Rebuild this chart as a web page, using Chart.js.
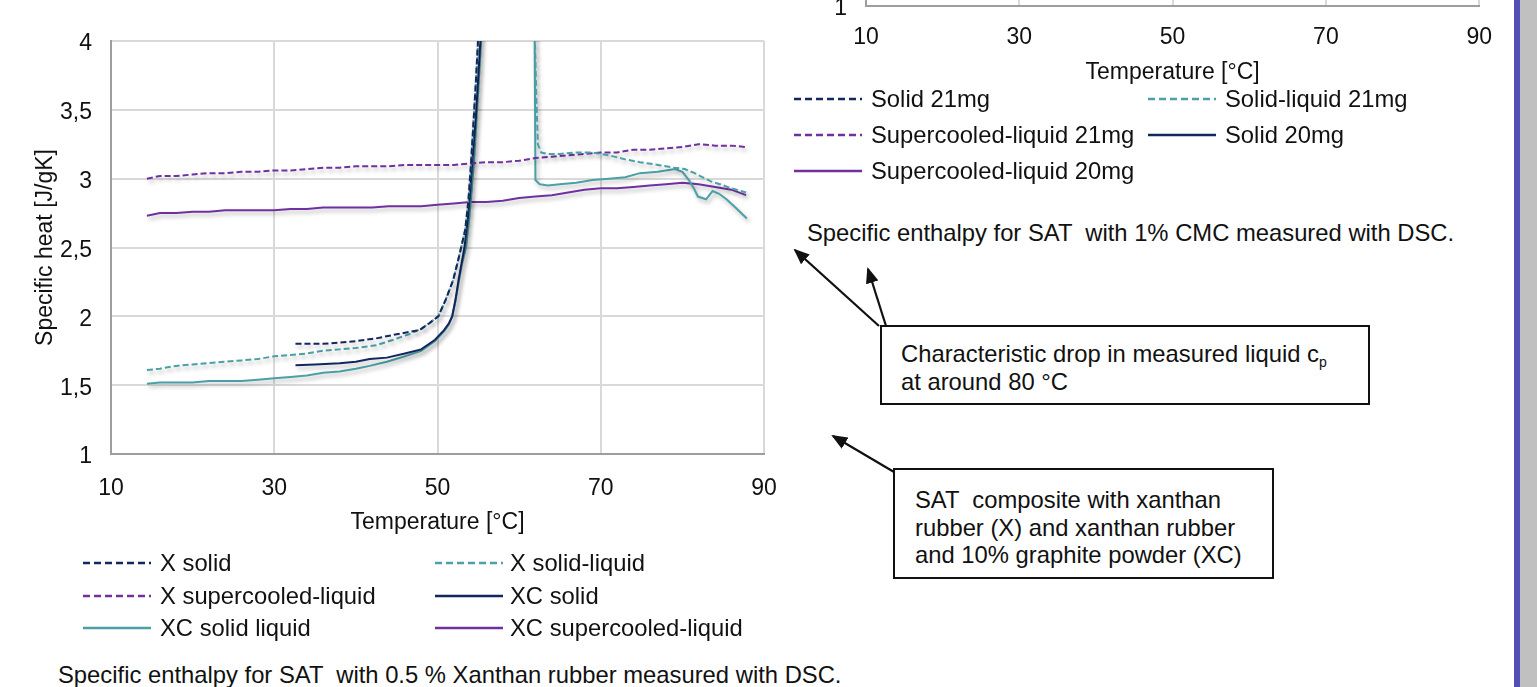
<!DOCTYPE html>
<html>
<head>
<meta charset="utf-8">
<script src="https://cdn.jsdelivr.net/npm/chart.js@4.4.1/dist/chart.umd.min.js"></script>
<style>
    body { margin: 0; width: 1537px; height: 687px; position: relative; overflow: hidden; background: #fff; font-family: 'Liberation Sans', Arial, sans-serif; }
    .txt { position: absolute; font-size: 23.8px; line-height: 26px; color: #111; white-space: pre; }
    .box { position: absolute; border: 2px solid #111; background: #fff; box-sizing: border-box; }
    .box .txt { position: static; line-height: 28px; }
    sub { font-size: 14px; vertical-align: -5px; line-height: 0; }
</style>
</head>
<body>
<div style="position:absolute;left:0;top:0;width:800px;height:540px;"><canvas id="leftChart" width="800" height="540"></canvas></div>
<div style="position:absolute;left:780px;top:-469px;width:730px;height:560px;"><canvas id="rightChart" width="730" height="560"></canvas></div>

<div class="txt" style="left:58px;top:662px;">Specific enthalpy for SAT  with 0.5 % Xanthan rubber measured with DSC.</div>
<div class="txt" style="left:807px;top:220px;">Specific enthalpy for SAT  with 1% CMC measured with DSC.</div>

<svg width="1537" height="687" style="position:absolute;left:0;top:0;pointer-events:none;">
    <defs>
        <marker id="head" markerWidth="16" markerHeight="13" refX="14" refY="6.5" orient="auto" markerUnits="userSpaceOnUse">
            <path d="M0,0 L16,6.5 L0,13 z" fill="#111"/>
        </marker>
    </defs>
    <line x1="879" y1="326" x2="795" y2="250" stroke="#111" stroke-width="2.2" marker-end="url(#head)"/>
    <line x1="886" y1="326" x2="868" y2="269" stroke="#111" stroke-width="2.2" marker-end="url(#head)"/>
    <line x1="894" y1="472" x2="833" y2="436" stroke="#111" stroke-width="2.2" marker-end="url(#head)"/>
</svg>

<div class="box" style="left:880px;top:325px;width:490px;height:80px;padding:13px 0 0 19px;">
    <div class="txt">Characteristic drop in measured liquid c<sub>p</sub></div>
    <div class="txt">at around 80 °C</div>
</div>
<div class="box" style="left:893px;top:468px;width:381px;height:111px;padding:16px 0 0 20px;">
    <div class="txt" style="line-height:27.5px;">SAT  composite with xanthan</div>
    <div class="txt" style="line-height:27.5px;">rubber (X) and xanthan rubber</div>
    <div class="txt" style="line-height:27.5px;">and 10% graphite powder (XC)</div>
</div>

<div style="position:absolute;left:1514px;top:0;width:6px;height:687px;background:#4f4fb6;"></div>
<div style="position:absolute;left:1520px;top:0;width:17px;height:687px;background:#c0c0c0;"></div>

<script>
// Left chart: SAT with 0.5 % xanthan rubber (X) and xanthan + graphite (XC)
var xSolidT = [32.6, 34, 36, 38, 40, 42.5, 45, 47.8, 49, 50.1, 51.0, 51.9, 52.5, 52.9, 53.4, 53.8, 54.1, 54.4, 54.7, 55.0];
var xSolidCp = [1.80, 1.80, 1.80, 1.81, 1.82, 1.84, 1.87, 1.90, 1.95, 2.00, 2.12, 2.26, 2.40, 2.50, 2.63, 2.85, 3.10, 3.40, 3.70, 4.05];

var xSolidLiquidT = [14.4, 16, 18, 20, 22, 24, 26, 28, 30, 32, 34, 36, 38, 40, 42.5, 44.6, 46.5, 48, 49, 50.1, 51.0, 51.9, 52.5, 52.9, 53.4, 53.8, 54.1, 54.4, 54.7, 55.1,
    61.9, 62.1, 62.3, 62.7, 63.5, 65, 67, 69, 71, 73, 74.8, 77, 79, 80.3, 81.5, 82.5, 83.5, 84.6, 86, 87.8];
var xSolidLiquidCp = [1.61, 1.62, 1.64, 1.65, 1.66, 1.67, 1.68, 1.69, 1.71, 1.72, 1.73, 1.75, 1.76, 1.77, 1.79, 1.83, 1.87, 1.91, 1.95, 2.00, 2.12, 2.26, 2.40, 2.50, 2.63, 2.85, 3.10, 3.40, 3.70, 4.10,
    4.10, 3.60, 3.25, 3.19, 3.18, 3.18, 3.19, 3.19, 3.17, 3.14, 3.12, 3.10, 3.08, 3.07, 3.04, 3.01, 2.98, 2.96, 2.93, 2.90];

var xSupercooledT = [14.4, 16, 18, 20, 22, 24, 26, 28, 30, 32, 34, 36, 38, 40, 42, 44, 46, 48, 50, 52, 54, 56, 58, 60, 62, 64, 66, 68, 70, 72, 74, 76, 78, 80, 82, 84, 86, 87.8];
var xSupercooledCp = [3.00, 3.02, 3.02, 3.03, 3.04, 3.04, 3.05, 3.05, 3.06, 3.06, 3.07, 3.08, 3.08, 3.09, 3.09, 3.09, 3.10, 3.10, 3.10, 3.10, 3.11, 3.12, 3.12, 3.13, 3.15, 3.16, 3.17, 3.18, 3.19, 3.19, 3.21, 3.21, 3.22, 3.23, 3.25, 3.24, 3.24, 3.23];

var xcSolidT = [32.6, 35, 38, 40, 41.7, 43.8, 46, 48, 49.7, 50.8, 51.4, 51.8, 52.2, 52.6, 53.0, 53.3, 53.7, 54.0, 54.3, 54.7, 55.0, 55.3];
var xcSolidCp = [1.645, 1.65, 1.66, 1.67, 1.69, 1.70, 1.73, 1.76, 1.83, 1.90, 1.95, 2.00, 2.12, 2.27, 2.40, 2.50, 2.70, 2.90, 3.15, 3.45, 3.75, 4.05];

var xcSolidLiquidT = [14.4, 16, 18, 20, 22, 24, 26, 28, 30, 32, 34, 36, 38, 40, 41.7, 43.8, 46, 48, 49.7, 50.8, 51.4, 51.8, 52.2, 52.6, 53.0, 53.5, 53.9, 54.2, 54.5, 54.8, 55.1, 55.4,
    61.9, 62.0, 62.5, 63.5, 65, 67, 69, 71, 73, 74.8, 77, 79.1, 80.0, 80.8, 81.4, 81.9, 82.9, 83.7, 84.5, 85.4, 86.5, 87.9];
var xcSolidLiquidCp = [1.51, 1.52, 1.52, 1.52, 1.53, 1.53, 1.53, 1.54, 1.55, 1.56, 1.57, 1.59, 1.60, 1.62, 1.64, 1.67, 1.71, 1.75, 1.82, 1.89, 1.94, 2.00, 2.11, 2.25, 2.38, 2.50, 2.72, 2.92, 3.15, 3.45, 3.75, 4.05,
    4.05, 2.99, 2.96, 2.95, 2.96, 2.97, 2.99, 3.00, 3.01, 3.04, 3.05, 3.07, 3.05, 2.99, 2.93, 2.87, 2.85, 2.91, 2.89, 2.85, 2.79, 2.71];

var xcSupercooledT = [14.4, 16, 18, 20, 22, 24, 26, 28, 30, 32, 34, 36, 38, 40, 42, 44, 46, 48, 50, 52, 54, 56, 58, 60, 62, 64, 66, 68, 70, 72, 74, 76, 78, 80, 82, 84, 86, 87.8];
var xcSupercooledCp = [2.73, 2.75, 2.75, 2.76, 2.76, 2.77, 2.77, 2.77, 2.77, 2.78, 2.78, 2.79, 2.79, 2.79, 2.79, 2.80, 2.80, 2.80, 2.81, 2.82, 2.83, 2.83, 2.84, 2.86, 2.87, 2.88, 2.90, 2.92, 2.93, 2.93, 2.94, 2.95, 2.96, 2.97, 2.96, 2.94, 2.92, 2.88];

// Right chart (only its bottom edge is visible): legend entries only
var rightLabels = ['Solid 21mg', 'Solid-liquid 21mg', 'Supercooled-liquid 21mg', 'Solid 20mg', 'Supercooled-liquid 20mg'];

var xTicks = [10, 30, 50, 70, 90];
var yTicks = [1, 1.5, 2, 2.5, 3, 3.5, 4];

var NAVY = '#13275e', TEAL = '#4aa0a6', PURPLE = '#7030a0';
var DASH = [6, 3];

function points(xs, ys) {
    var out = [];
    for (var i = 0; i < xs.length; i++) {
        out.push({x: xs[i], y: ys[i]});
    }
    return out;
}

function series(label, xs, ys, color, dashed) {
    return {
        label: label,
        data: points(xs, ys),
        borderColor: color,
        backgroundColor: color,
        borderWidth: 2,
        borderDash: dashed ? DASH : [],
        pointRadius: 0,
        fill: false
    };
}

// soft shadow under the curves, like the office chart
var shadowPlugin = {
    id: 'lineShadow',
    beforeDatasetDraw: function (chart) {
        var ctx = chart.ctx;
        ctx.save();
        ctx.shadowColor = 'rgba(0,0,0,0.3)';
        ctx.shadowBlur = 4;
        ctx.shadowOffsetX = 2;
        ctx.shadowOffsetY = 3;
    },
    afterDatasetDraw: function (chart) {
        chart.ctx.restore();
    }
};

var tickFont = {family: "'Liberation Sans', Arial, sans-serif", size: 23};

function axes(yWidth, xHeight, xPad) {
    return {
        x: {
            type: 'linear', min: xTicks[0], max: xTicks[xTicks.length - 1],
            afterBuildTicks: function (s) { s.ticks = xTicks.map(function (v) { return {value: v}; }); },
            afterFit: function (s) { s.height = xHeight; },
            ticks: {font: tickFont, color: '#111', padding: xPad, maxRotation: 0},
            grid: {color: '#d9d9d9', lineWidth: 2, drawTicks: false},
            border: {color: '#9e9e9e', width: 2},
            title: {display: true, text: 'Temperature [°C]', font: tickFont, color: '#111', padding: {top: 0, bottom: 0}}
        },
        y: {
            min: yTicks[0], max: yTicks[yTicks.length - 1],
            afterBuildTicks: function (s) { s.ticks = yTicks.map(function (v) { return {value: v}; }); },
            afterFit: function (s) { s.width = yWidth; },
            ticks: {
                font: tickFont, color: '#111', padding: 19, labelOffset: 3,
                callback: function (v) { return String(v).replace('.', ','); }
            },
            grid: {color: '#d9d9d9', lineWidth: 2, drawTicks: false},
            border: {color: '#9e9e9e', width: 2}
        }
    };
}

var leftScales = axes(111, 82, 21);
leftScales.y.title = {display: true, text: 'Specific heat [J/gK]', font: tickFont, color: '#111', padding: {top: 32, bottom: 0}};

var leftChart = new Chart(document.getElementById('leftChart'), {
    type: 'line',
    data: {
        datasets: [
            series('X solid', xSolidT, xSolidCp, NAVY, true),
            series('X solid-liquid', xSolidLiquidT, xSolidLiquidCp, TEAL, true),
            series('X supercooled-liquid', xSupercooledT, xSupercooledCp, PURPLE, true),
            series('XC solid', xcSolidT, xcSolidCp, NAVY, false),
            series('XC solid liquid', xcSolidLiquidT, xcSolidLiquidCp, TEAL, false),
            series('XC supercooled-liquid', xcSupercooledT, xcSupercooledCp, PURPLE, false)
        ]
    },
    options: {
        responsive: false,
        animation: false,
        layout: {padding: {left: 0, top: 41, right: 36, bottom: 4}},
        plugins: {legend: {display: false}, tooltip: {enabled: false}},
        scales: leftScales
    },
    plugins: [shadowPlugin]
});

var rightChart = new Chart(document.getElementById('rightChart'), {
    type: 'line',
    data: {
        datasets: [
            series(rightLabels[0], [], [], NAVY, true),
            series(rightLabels[1], [], [], TEAL, true),
            series(rightLabels[2], [], [], PURPLE, true),
            series(rightLabels[3], [], [], NAVY, false),
            series(rightLabels[4], [], [], PURPLE, false)
        ]
    },
    options: {
        responsive: false,
        animation: false,
        layout: {padding: {left: 0, top: 62, right: 27, bottom: 5}},
        plugins: {legend: {display: false}, tooltip: {enabled: false}},
        scales: axes(86, 80, 18)
    }
});

// Two-column legend under each chart, built from the datasets
function drawLegend(chart, colX, textX, rowY) {
    chart.data.datasets.forEach(function (ds, i) {
        var col = i % 2, row = Math.floor(i / 2);
        var c = document.createElement('canvas');
        c.width = 68;
        c.height = 8;
        c.style.cssText = 'position:absolute;left:' + colX[col] + 'px;top:' + (rowY[row] - 4) + 'px;';
        var g = c.getContext('2d');
        g.strokeStyle = ds.borderColor;
        g.lineWidth = 2.5;
        g.setLineDash(ds.borderDash.length ? [7, 4] : []);
        g.beginPath();
        g.moveTo(0, 4);
        g.lineTo(68, 4);
        g.stroke();
        document.body.appendChild(c);

        var t = document.createElement('div');
        t.className = 'txt';
        t.textContent = ds.label;
        t.style.left = textX[col] + 'px';
        t.style.top = (rowY[row] - 13) + 'px';
        document.body.appendChild(t);
    });
}

drawLegend(leftChart, [83, 435], [160, 510], [563, 596, 628]);
drawLegend(rightChart, [794, 1148], [871, 1225], [99, 135, 171]);
</script>
</body>
</html>
